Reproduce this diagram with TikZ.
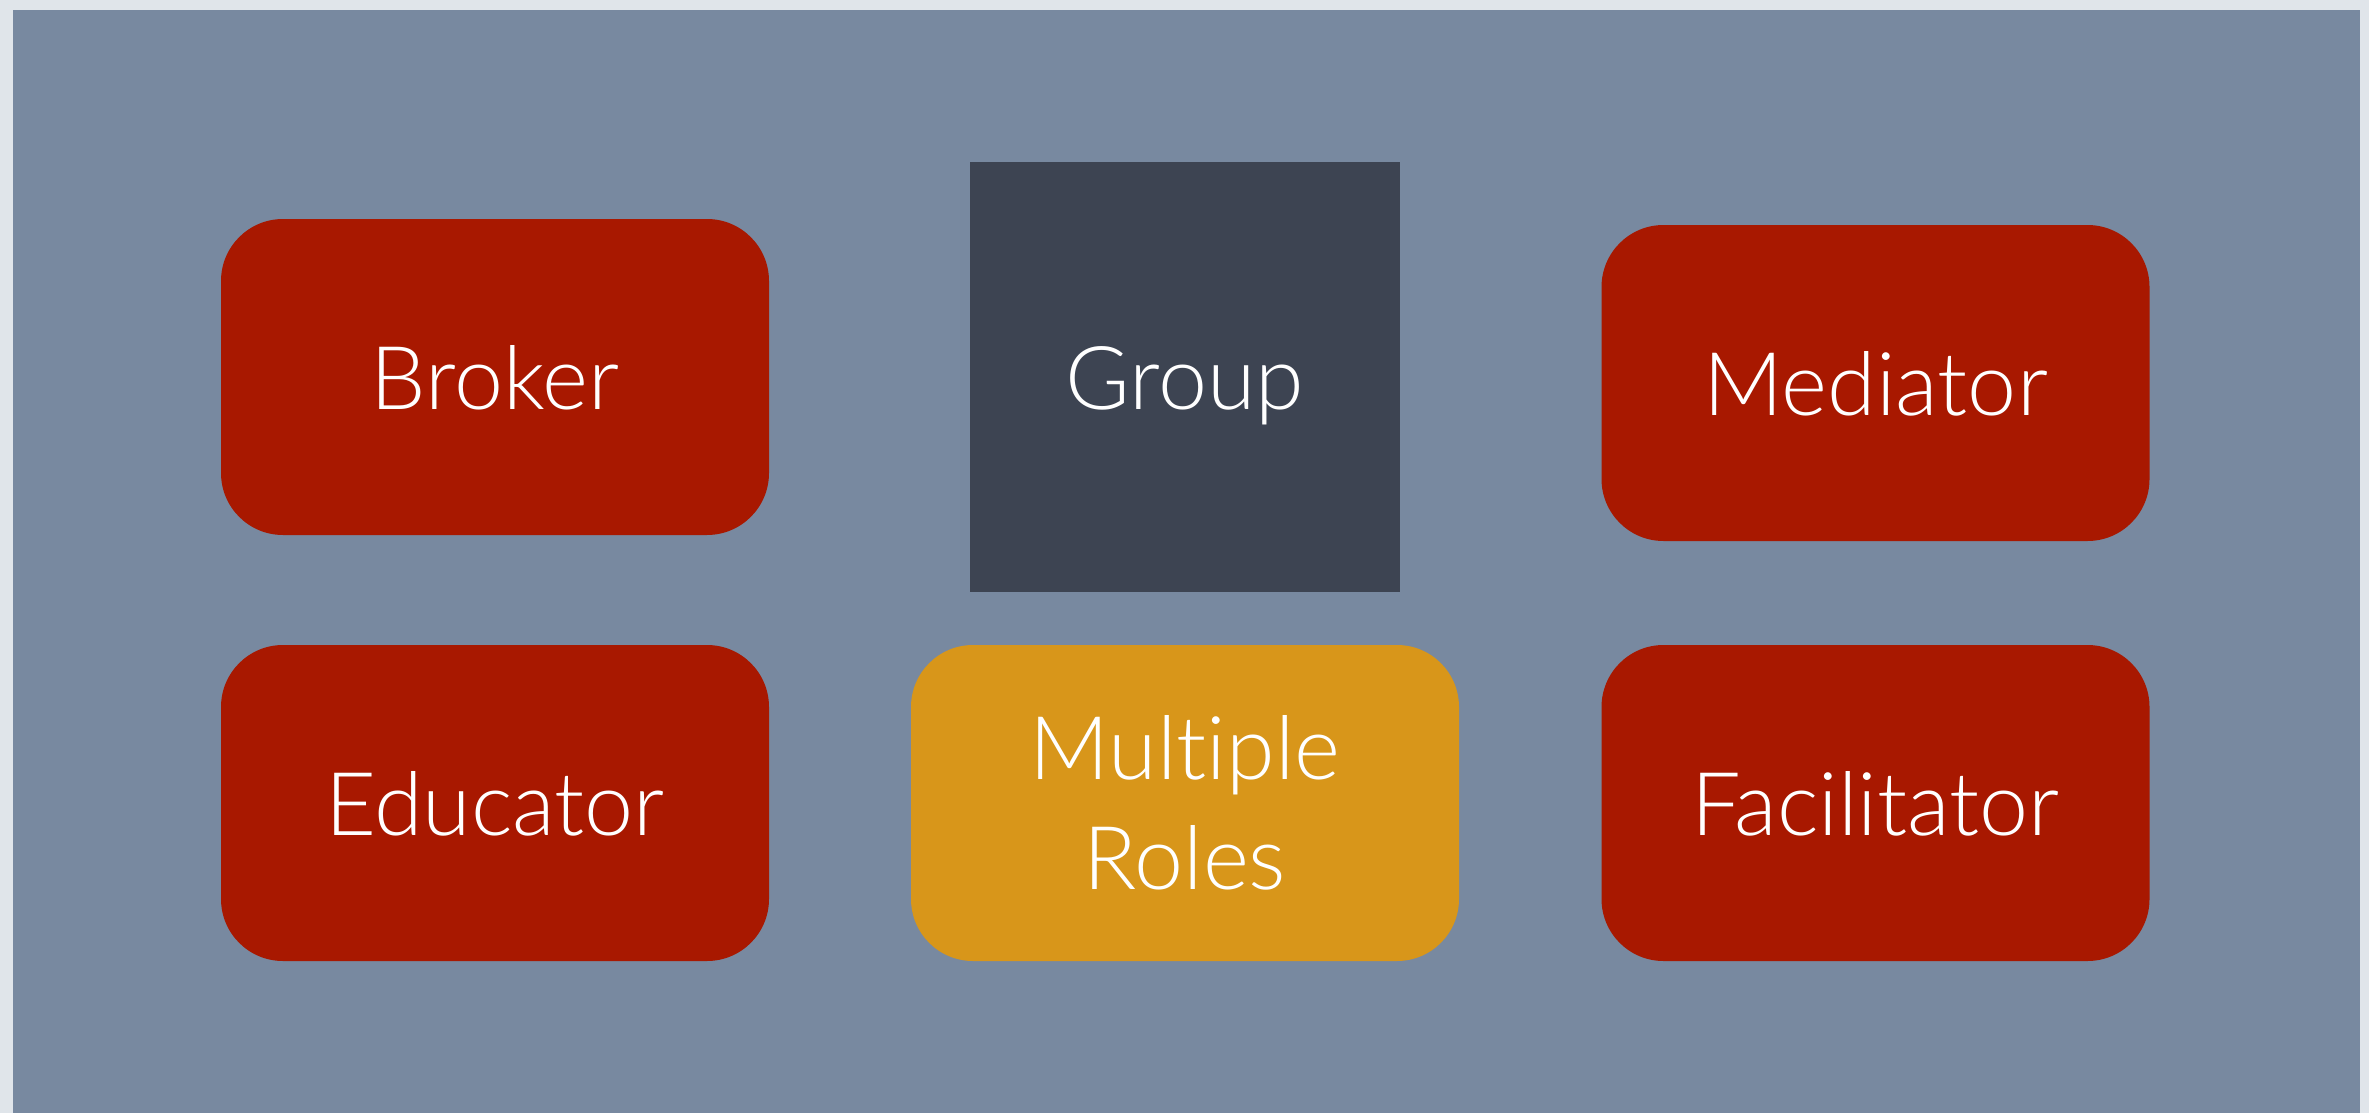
\documentclass[tikz,border=0pt]{standalone}
\usepackage{fontspec}
\setmainfont{Lato}[UprightFont={* Light},Ligatures=NoCommon]
\definecolor{outerbg}{RGB}{224,229,234}
\definecolor{panel}{RGB}{120,137,160}
\definecolor{rolered}{RGB}{168,24,0}
\definecolor{groupdark}{RGB}{61,68,82}
\definecolor{gold}{RGB}{216,150,26}
\tikzset{
  rolebox/.style={fill=rolered, draw=none, rounded corners=62pt, minimum width=548pt, minimum height=316pt, inner sep=0pt, text=white, font=\fontsize{88}{110}\selectfont, text height=64pt, text depth=0pt},
  groupbox/.style={fill=groupdark, draw=none, minimum width=430pt, minimum height=430pt, inner sep=0pt, text=white, font=\fontsize{88}{110}\selectfont, text height=64pt, text depth=0pt},
  multibox/.style={fill=gold, draw=none, rounded corners=62pt, minimum width=548pt, minimum height=316pt, inner sep=0pt, text=white, font=\fontsize{88}{110}\selectfont, align=center}
}
\begin{document}
\begin{tikzpicture}[x=1pt,y=-1pt]
\fill[outerbg] (0,0) rectangle (2369,1113);
\fill[panel] (13,10) rectangle (2360,1113);
\node[rolebox] (broker) at (495,377) {Broker};
\node[groupbox] (group) at (1185,377) {Group};
\node[rolebox] (mediator) at (1875.5,383) {Mediator};
\node[rolebox] (educator) at (495,803) {Educator};
\node[multibox] (multiple) at (1185,803) {Mult\kern0pt iple\\Roles};
\node[rolebox] (facilitator) at (1875.5,803) {Facilitator};
\end{tikzpicture}
\end{document}
